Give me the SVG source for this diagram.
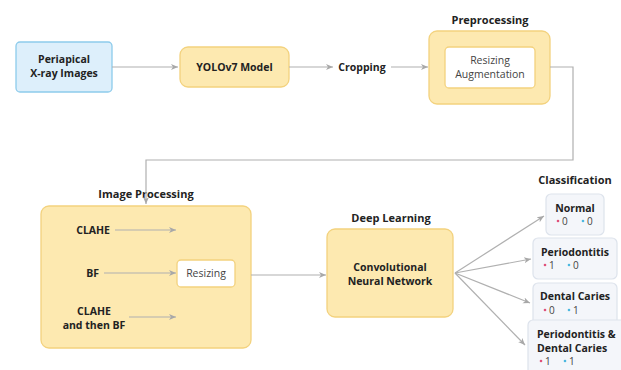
<svg xmlns="http://www.w3.org/2000/svg" width="621" height="370" viewBox="0 0 621 370">
<defs>
<marker id="ah" viewBox="0 0 8 8" refX="7" refY="4" markerWidth="8" markerHeight="8" markerUnits="userSpaceOnUse" orient="auto">
<path d="M0,1 L7,4 L0,7 L2,4 Z" fill="#a8a8a8"/>
</marker>
<style>
text{font-family:"Open Sans","Noto Sans","Liberation Sans",sans-serif;fill:#222;}
.b{font-weight:bold;font-size:10.5px;}
.t{font-weight:bold;font-size:11px;}
.n{font-size:10.5px;fill:#444;}
.d{font-size:10px;fill:#444;}
.y{fill:#fde9b0;stroke:#f3d27e;stroke-width:1.3;}
.w{fill:#fff;stroke:#f3d27e;stroke-width:1.3;}
.c{fill:#f4f6fa;stroke:#dde3ec;stroke-width:1.2;}
.e{fill:none;stroke:#b0b0b0;stroke-width:1.2;}
.r{fill:#e0507a;}
.u{fill:#4cb8e0;}
</style>
</defs>
<rect width="621" height="370" fill="#fff"/>
<g id="periapical">
<rect x="16" y="42" width="96" height="50" rx="4" fill="#ddeffb" stroke="#8dcbeb" stroke-width="1.3"/>
<text class="b" x="64" y="63" text-anchor="middle">Periapical</text>
<text class="b" x="64" y="77" text-anchor="middle">X-ray Images</text>
</g>
<g id="yolo">
<rect class="y" x="180" y="47" width="109" height="40" rx="8"/>
<text class="b" x="234.5" y="71" text-anchor="middle">YOLOv7 Model</text>
</g>
<g id="cropping">
<text class="b" x="362" y="71" text-anchor="middle">Cropping</text>
</g>
<g id="preprocessing">
<text class="t" x="490" y="24" text-anchor="middle">Preprocessing</text>
<rect class="y" x="429" y="31" width="121" height="73" rx="8"/>
<rect class="w" x="445" y="47" width="90" height="41" rx="4"/>
<text class="n" x="490" y="64" text-anchor="middle">Resizing</text>
<text class="n" x="490" y="78" text-anchor="middle">Augmentation</text>
</g>
<g id="image-processing">
<text class="t" x="146" y="198" text-anchor="middle">Image Processing</text>
<rect class="y" x="41" y="206" width="210" height="142" rx="8"/>
<text class="b" x="110" y="234" text-anchor="end">CLAHE</text>
<text class="b" x="99" y="277" text-anchor="end">BF</text>
<text class="b" x="94" y="315" text-anchor="middle">CLAHE</text>
<text class="b" x="94" y="329" text-anchor="middle">and then BF</text>
</g>
<g id="resizing">
<rect class="w" x="177" y="260" width="58" height="27" rx="4"/>
<text class="n" x="206" y="277" text-anchor="middle">Resizing</text>
</g>
<g id="cnn">
<text class="t" x="391" y="222" text-anchor="middle">Deep Learning</text>
<rect class="y" x="327" y="229" width="126" height="88" rx="8"/>
<text class="b" x="390" y="271" text-anchor="middle">Convolutional</text>
<text class="b" x="390" y="285" text-anchor="middle">Neural Network</text>
</g>
<g id="classification-label">
<text class="t" x="575" y="184" text-anchor="middle">Classification</text>
</g>
<g id="normal">
<rect class="c" x="546" y="194" width="58" height="41" rx="5"/>
<text class="b" x="575" y="212" text-anchor="middle">Normal</text>
<circle class="r" cx="558" cy="221" r="1.3"/><text class="d" x="562" y="225">0</text>
<circle class="u" cx="583" cy="221" r="1.3"/><text class="d" x="587" y="225">0</text>
</g>
<g id="periodontitis">
<rect class="c" x="533" y="238" width="84" height="41" rx="5"/>
<text class="b" x="575" y="256" text-anchor="middle">Periodontitis</text>
<circle class="r" cx="545" cy="265" r="1.3"/><text class="d" x="549" y="269">1</text>
<circle class="u" cx="569" cy="265" r="1.3"/><text class="d" x="573" y="269">0</text>
</g>
<g id="dental-caries">
<rect class="c" x="533" y="283" width="84" height="45" rx="5"/>
<text class="b" x="575" y="300" text-anchor="middle">Dental Caries</text>
<circle class="r" cx="545" cy="310" r="1.3"/><text class="d" x="549" y="314">0</text>
<circle class="u" cx="569" cy="310" r="1.3"/><text class="d" x="573" y="314">1</text>
</g>
<g id="both">
<rect class="c" x="528" y="320" width="98" height="60" rx="5"/>
<text class="b" x="537" y="338">Periodontitis &amp;</text>
<text class="b" x="537" y="352">Dental Caries</text>
<circle class="r" cx="541" cy="361" r="1.3"/><text class="d" x="545" y="365">1</text>
<circle class="u" cx="565" cy="361" r="1.3"/><text class="d" x="569" y="365">1</text>
</g>
<g id="connectors">
<line class="e" x1="112" y1="67" x2="178" y2="67" marker-end="url(#ah)"/>
<line class="e" x1="289" y1="67" x2="333" y2="67" marker-end="url(#ah)"/>
<line class="e" x1="391" y1="67" x2="428" y2="67" marker-end="url(#ah)"/>
<polyline class="e" points="550,67 573,67 573,160 146,160 146,204" marker-end="url(#ah)"/>
<line class="e" x1="115" y1="230" x2="176" y2="230" marker-end="url(#ah)"/>
<line class="e" x1="104" y1="273" x2="176" y2="273" marker-end="url(#ah)"/>
<line class="e" x1="129" y1="317" x2="176" y2="317" marker-end="url(#ah)"/>
<line class="e" x1="251" y1="275" x2="326" y2="275" marker-end="url(#ah)"/>
<line class="e" x1="455" y1="273" x2="544" y2="216" marker-end="url(#ah)"/>
<line class="e" x1="455" y1="273" x2="531" y2="259" marker-end="url(#ah)"/>
<line class="e" x1="455" y1="273" x2="530" y2="303" marker-end="url(#ah)"/>
<line class="e" x1="455" y1="273" x2="525" y2="345" marker-end="url(#ah)"/>
</g>
</svg>
